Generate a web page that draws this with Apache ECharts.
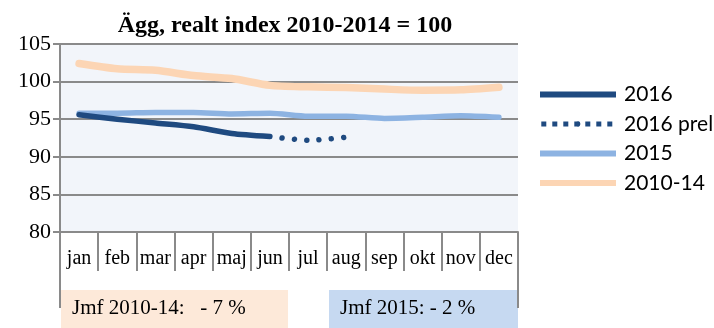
<!DOCTYPE html>
<html>
<head>
<meta charset="utf-8">
<script src="https://cdn.jsdelivr.net/npm/echarts@6/dist/echarts.min.js"></script>
<style>
  html, body { margin: 0; padding: 0; background: #fff; }
  #chart { width: 714px; height: 328px; }
</style>
</head>
<body>
<div id="chart"></div>
<script>
// Månader och indexserier (realt index, 2010-2014 = 100)
const months = ['jan', 'feb', 'mar', 'apr', 'maj', 'jun', 'jul', 'aug', 'sep', 'okt', 'nov', 'dec'];
const s2016 = [95.6, 95.0, 94.5, 94.0, 93.1, 92.7, null, null, null, null, null, null];
const s2016prel = [null, null, null, null, null, 92.7, 92.2, 92.6, null, null, null, null];
const s2015 = [95.8, 95.8, 95.9, 95.9, 95.7, 95.8, 95.4, 95.4, 95.1, 95.25, 95.45, 95.25];
const s2010_14 = [102.4, 101.7, 101.5, 100.8, 100.4, 99.5, 99.3, 99.2, 99.0, 98.85, 98.9, 99.25];
const yTicks = [80, 85, 90, 95, 100, 105];
const notes = ['Jmf 2010-14:   - 7 %', 'Jmf 2015: - 2 %'];

const C_DARK = '#1f4a80';
const C_LIGHT = '#8db3e2';
const C_PEACH = '#fcd5b4';
const C_GRID = '#8a8a8a';
const SERIF = '"Liberation Serif", "Times New Roman", serif';

const G = { left: 60, top: 44, width: 458, height: 188 };
const gBottom = G.top + G.height;
const gRight = G.left + G.width;

const chart = echarts.init(document.getElementById('chart'), null, { renderer: 'canvas' });

chart.setOption({
  animation: false,
  backgroundColor: '#ffffff',
  title: {
    text: 'Ägg, realt index 2010-2014 = 100',
    left: 280,
    textAlign: 'center',
    top: 9,
    textStyle: { fontFamily: SERIF, fontWeight: 'bold', fontSize: 24, color: '#000' }
  },
  grid: {
    left: G.left, top: G.top, width: G.width, height: G.height,
    show: true, backgroundColor: '#f2f5fa', borderWidth: 0
  },
  legend: {
    orient: 'vertical',
    left: 537,
    top: 84,
    padding: 0,
    itemWidth: 76,
    itemHeight: 6,
    itemGap: 8.5,
    textStyle: { fontFamily: 'Lato, "Open Sans", sans-serif', fontSize: 21, lineHeight: 20, color: '#000', padding: [0, 0, 0, 3] },
    data: [
      { name: '2016', lineStyle: { width: 6, type: 'solid', cap: 'butt' } },
      { name: '2016 prel', lineStyle: { width: 5, type: [5, 6], cap: 'butt' } },
      { name: '2015', lineStyle: { width: 6, type: 'solid', cap: 'butt' } },
      { name: '2010-14', lineStyle: { width: 6, type: 'solid', cap: 'butt' } }
    ]
  },
  xAxis: {
    type: 'category',
    data: months,
    boundaryGap: true,
    axisLine: { show: true, lineStyle: { color: C_GRID, width: 2 } },
    axisTick: { show: true, interval: 0, length: 39, lineStyle: { color: C_GRID, width: 2 } },
    axisLabel: { interval: 0, margin: 17, fontFamily: SERIF, fontSize: 20, color: '#000' },
    splitLine: { show: false }
  },
  yAxis: {
    type: 'value',
    min: yTicks[0],
    max: yTicks[yTicks.length - 1],
    interval: 5,
    axisLine: { show: true, lineStyle: { color: C_GRID, width: 2 } },
    axisTick: { show: true, length: 7, lineStyle: { color: C_GRID, width: 2 } },
    axisLabel: { margin: 9, fontFamily: SERIF, fontSize: 22, color: '#000' },
    splitLine: { show: true, lineStyle: { color: C_GRID, width: 2 } }
  },
  series: [
    {
      name: '2010-14', type: 'line', data: s2010_14, symbol: 'none', smooth: 0.25, z: 2,
      lineStyle: { color: C_PEACH, width: 7.5, cap: 'round', join: 'round' },
      itemStyle: { color: C_PEACH }
    },
    {
      name: '2015', type: 'line', data: s2015, symbol: 'none', smooth: 0.25, z: 3,
      lineStyle: { color: C_LIGHT, width: 5.5, cap: 'round', join: 'round' },
      itemStyle: { color: C_LIGHT }
    },
    {
      name: '2016', type: 'line', data: s2016, symbol: 'none', smooth: 0.25, z: 4,
      lineStyle: { color: C_DARK, width: 5.5, cap: 'round', join: 'round' },
      itemStyle: { color: C_DARK }
    },
    {
      name: '2016 prel', type: 'line', data: s2016prel, symbol: 'none', smooth: 0.25, z: 4,
      lineStyle: { color: C_DARK, width: 5.5, type: [0.01, 12.3], dashOffset: -12.3, cap: 'round', join: 'round' },
      itemStyle: { color: C_DARK }
    }
  ],
  graphic: [
    // kommentarsrutor under diagrammet
    { type: 'rect', left: G.left + 1, top: 290, shape: { width: 227, height: 38 }, style: { fill: '#fde9d9' }, z: 1 },
    { type: 'rect', left: 329, top: 290, shape: { width: gRight - 329, height: 38 }, style: { fill: '#c6d9f1' }, z: 1 },
    { type: 'text', left: 72, top: 298, style: { text: notes[0], font: '21px ' + SERIF, fill: '#000' }, z: 2 },
    { type: 'text', left: 340, top: 298, style: { text: notes[1], font: '21px ' + SERIF, fill: '#000' }, z: 2 },
    // förlängda axellinjer nedåt
    { type: 'line', shape: { x1: G.left, y1: gBottom, x2: G.left, y2: 308 }, style: { stroke: C_GRID, lineWidth: 2 }, z: 3 },
    { type: 'line', shape: { x1: gRight, y1: gBottom, x2: gRight, y2: 308 }, style: { stroke: C_GRID, lineWidth: 2 }, z: 3 }
  ]
});
</script>
</body>
</html>
